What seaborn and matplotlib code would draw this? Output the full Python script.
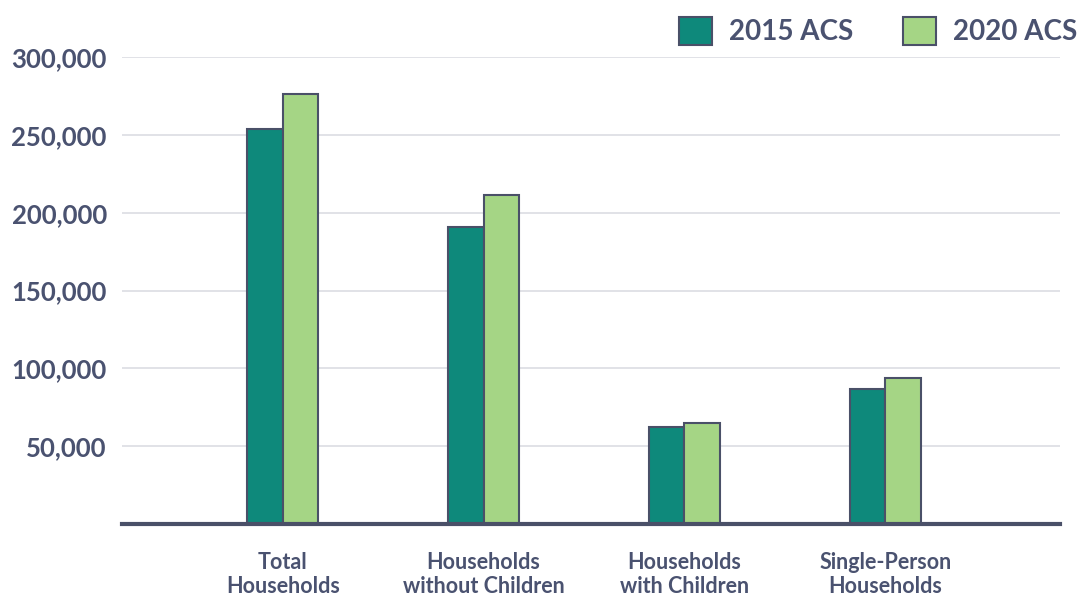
import matplotlib
matplotlib.use("Agg")
import matplotlib.pyplot as plt
from matplotlib.patches import Patch
import pandas as pd
import seaborn as sns

# Data
categories = ["Total\nHouseholds", "Households\nwithout Children",
              "Households\nwith Children", "Single-Person\nHouseholds"]
acs_2015 = [254000, 191000, 62000, 87000]
acs_2020 = [276000, 211500, 65000, 93500]
series = ["2015 ACS", "2020 ACS"]
y_ticks = [50000, 100000, 150000, 200000, 250000, 300000]

colors = {"2015 ACS": "#0e897b", "2020 ACS": "#a5d585"}
text_color = "#4a5270"
edge_color = "#4a5068"

df = pd.DataFrame({
    "category": categories * 2,
    "survey": [series[0]] * len(categories) + [series[1]] * len(categories),
    "value": acs_2015 + acs_2020,
})

sns.set_theme(style="white")
plt.rcParams["font.family"] = ["Lato", "DejaVu Sans"]

fig = plt.figure(figsize=(10.81, 5.97), dpi=100)
ax = fig.add_axes([0.1129, 0.1223, 0.8677, 0.7822])

sns.barplot(data=df, x="category", y="value", hue="survey", palette=colors,
            saturation=1, width=0.355, gap=0, edgecolor=edge_color,
            linewidth=1.5, legend=False, ax=ax, zorder=3)

ax.set_xlim(-0.80, 3.87)
ax.set_ylim(0, 300000)
ax.set_yticks(y_ticks)
ax.set_yticklabels([f"{v:,}" for v in y_ticks])
ax.yaxis.grid(True, color="#dcdde3", linewidth=1.2, zorder=0)
ax.set_axisbelow(True)

for side in ["left", "top", "right"]:
    ax.spines[side].set_visible(False)
ax.spines["bottom"].set_color(edge_color)
ax.spines["bottom"].set_linewidth(3)
ax.spines["bottom"].set_zorder(4)

ax.tick_params(axis="y", length=0, pad=11, labelsize=18.5, labelcolor=text_color)
ax.tick_params(axis="x", length=0, pad=20, labelsize=15.5, labelcolor=text_color)
for lab in ax.get_yticklabels() + ax.get_xticklabels():
    lab.set_fontweight("bold")
ax.set_xlabel("")
ax.set_ylabel("")

handles = [Patch(facecolor=colors[s], edgecolor=edge_color, linewidth=1.5, label=s)
           for s in series]
leg = fig.legend(handles=handles, loc="upper right", bbox_to_anchor=(1.012, 1.0),
                 ncol=2, frameon=False, fontsize=20, handlelength=1.2,
                 handleheight=1.2, handletextpad=0.6, columnspacing=1.8,
                 borderaxespad=0.2)
for t in leg.get_texts():
    t.set_color(text_color)
    t.set_fontweight("bold")

fig.savefig("out.png", dpi=100)
